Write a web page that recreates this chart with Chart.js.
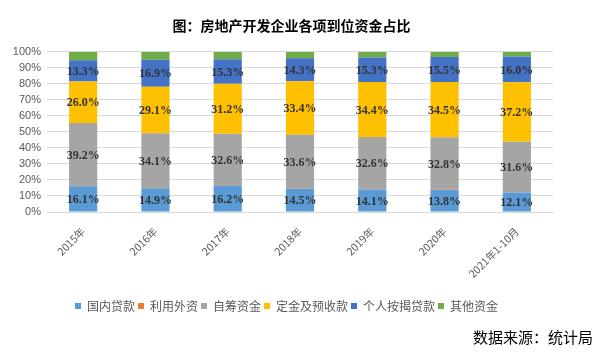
<!DOCTYPE html>
<html>
<head>
<meta charset="utf-8">
<script src="https://cdn.jsdelivr.net/npm/chart.js@4"></script>
<style>
html,body{margin:0;padding:0;background:#fff;}
#wrap{width:599px;height:352px;position:relative;}
</style>
</head>
<body>
<div id="wrap"><canvas id="c" width="599" height="352"></canvas></div>
<script>
const TITLE = '图：房地产开发企业各项到位资金占比';
const SOURCE = '数据来源：统计局';
const categories = ['2015年','2016年','2017年','2018年','2019年','2020年','2021年1-10月'];
const domesticLoans   = [16.1, 14.9, 16.2, 14.5, 14.1, 13.8, 12.1];
const foreignCapital  = [0.2, 0.1, 0.1, 0.1, 0.1, 0.1, 0.1];
const selfRaised      = [39.2, 34.1, 32.6, 33.6, 32.6, 32.8, 31.6];
const depositsAdvance = [26.0, 29.1, 31.2, 33.4, 34.4, 34.5, 37.2];
const mortgageLoans   = [13.3, 16.9, 15.3, 14.3, 15.3, 15.5, 16.0];
const otherFunds      = [5.2, 4.9, 4.6, 4.1, 3.5, 3.3, 3.0];
const seriesNames = ['国内贷款','利用外资','自筹资金','定金及预收款','个人按揭贷款','其他资金'];
const yTicks = [0,10,20,30,40,50,60,70,80,90,100];

const colors = ['#5B9BD5','#ED7D31','#A5A5A5','#FFC000','#4472C4','#70AD47'];
const seriesData = [domesticLoans, foreignCapital, selfRaised, depositsAdvance, mortgageLoans, otherFunds];
const labelled = [true,false,true,true,true,false];

const labelPlugin = {
  id: 'segLabels',
  afterDatasetsDraw(chart) {
    const ctx = chart.ctx;
    ctx.save();
    ctx.font = 'bold 12px "Liberation Serif", serif';
    ctx.fillStyle = '#333333';
    ctx.textAlign = 'center';
    ctx.textBaseline = 'middle';
    chart.data.datasets.forEach((ds, di) => {
      if (!labelled[di]) return;
      const meta = chart.getDatasetMeta(di);
      meta.data.forEach((el, i) => {
        const v = ds.data[i];
        ctx.fillText(v.toFixed(1) + '%', el.x, (el.y + el.base) / 2 + 1);
      });
    });
    ctx.restore();
  }
};

const placePlugin = {
  id: 'placeBoxes',
  afterLayout(chart) {
    const t = chart.titleBlock;
    if (t) { const dx = 291.5 - (t.left + t.right) / 2; t.left += dx; t.right += dx; }
    const lg = chart.legend;
    if (lg && lg.lineWidths) {
      const pad = lg.options.labels.padding;
      const firstX = (lg.left + pad + lg.right - lg.lineWidths[0]) / 2;
      const dx = 75 - firstX;
      lg.left += dx; lg.right += dx;
      const h = lg.bottom - lg.top;
      lg.top = 306 - pad - 6; lg.bottom = lg.top + h;
    }
    chart.boxes.forEach(b => {
      if (b.options && b.options.text === SOURCE) {
        const dx = 593 - b.right; b.left += dx; b.right += dx;
        const h = b.bottom - b.top;
        b.top = 337.5 - 9; b.bottom = b.top + h;
      }
    });
  }
};

new Chart(document.getElementById('c'), {
  type: 'bar',
  data: {
    labels: categories,
    datasets: seriesNames.map((n, i) => ({
      label: n,
      data: seriesData[i],
      backgroundColor: colors[i],
      borderWidth: 0,
      categoryPercentage: 0.8,
      barPercentage: 0.4875
    }))
  },
  options: {
    responsive: false,
    animation: false,
    devicePixelRatio: 1,
    layout: { padding: { left: 0, right: 46, top: 0, bottom: 0 } },
    plugins: {
      title: {
        display: true, text: TITLE, color: '#000',
        font: { family: '"Noto Sans CJK SC", sans-serif', size: 14, weight: 'bold', lineHeight: 1.2 },
        padding: { top: 17, bottom: 18 }
      },
      subtitle: {
        display: true, text: SOURCE, position: 'bottom', align: 'end', color: '#000',
        font: { family: '"Noto Sans CJK SC", sans-serif', size: 15, weight: 'normal', lineHeight: 1.2 },
        padding: { top: 0, bottom: 6 }
      },
      legend: {
        position: 'bottom',
        labels: {
          color: '#595959', boxWidth: 6, boxHeight: 6, padding: 3,
          font: { family: '"Noto Sans CJK SC", sans-serif', size: 12 }
        }
      },
      tooltip: { enabled: false }
    },
    scales: {
      x: {
        stacked: true,
        grid: { display: false },
        border: { display: true, color: '#d9d9d9' },
        ticks: { color: '#595959', maxRotation: 45, minRotation: 45, padding: 5, autoSkip: false,
                 font: { family: '"Noto Sans CJK SC", sans-serif', size: 10.5 } },
        afterFit(s) { s.height = 91; }
      },
      y: {
        stacked: true, min: 0, max: 100,
        afterBuildTicks(s) { s.ticks = yTicks.map(v => ({ value: v })); },
        grid: { color: '#d9d9d9', drawTicks: false },
        border: { display: false },
        ticks: { color: '#595959', padding: 6, autoSkip: false, callback: v => v + '%',
                 font: { family: '"Liberation Sans", sans-serif', size: 11 } },
        afterFit(s) { s.width = 47; }
      }
    }
  },
  plugins: [labelPlugin, placePlugin]
});
</script>
</body>
</html>
